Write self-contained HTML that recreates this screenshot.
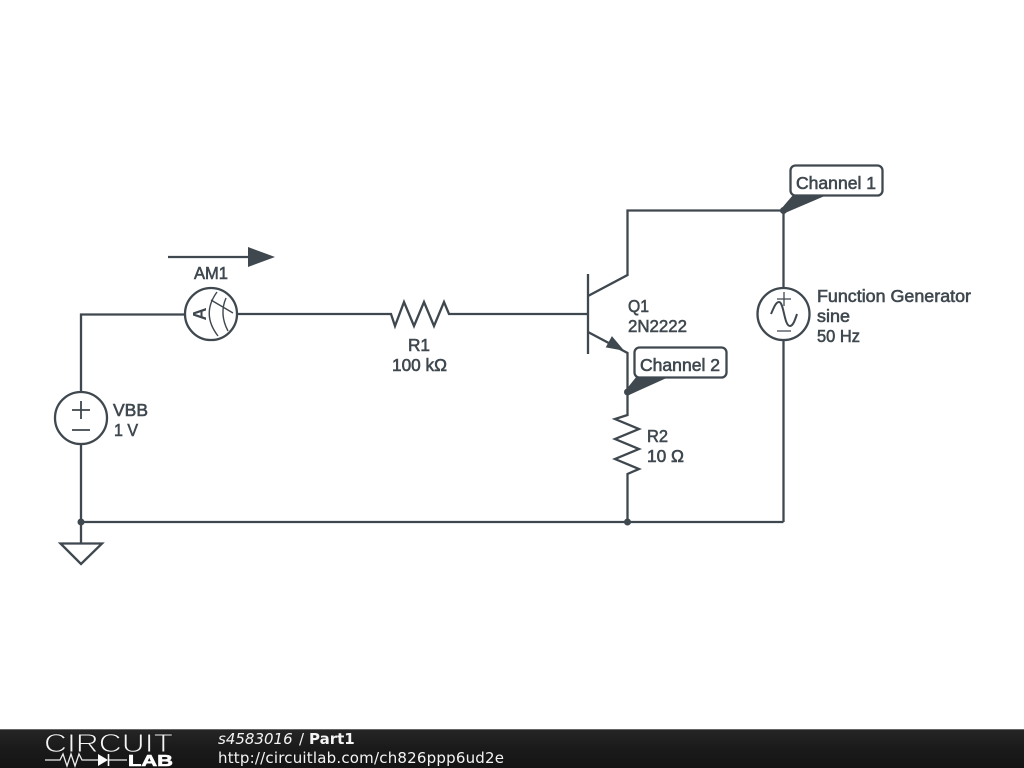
<!DOCTYPE html>
<html>
<head>
<meta charset="utf-8">
<style>
html,body{margin:0;padding:0;background:#fff;width:1024px;height:768px;overflow:hidden}
svg{display:block;position:absolute;left:0;top:0}
.w{fill:none;stroke:#3f484f;stroke-width:2.3;stroke-linejoin:miter}
.t{font-family:"Liberation Sans",sans-serif;font-size:17.5px;fill:#3f484f;stroke:#3f484f;stroke-width:.6}
.f{font-family:"DejaVu Sans",sans-serif;font-size:15px;fill:#f4f4f4}
</style>
</head>
<body>
<svg width="1024" height="768" viewBox="0 0 1024 768" xmlns="http://www.w3.org/2000/svg">
<defs>
<linearGradient id="g" x1="0" y1="0" x2="0" y2="1">
<stop offset="0" stop-color="#262626"/><stop offset=".5" stop-color="#1a1a1a"/><stop offset="1" stop-color="#141414"/>
</linearGradient>
</defs>

<!-- wires -->
<path class="w" d="M185 314.500H81V392M81 444V543"/>
<path class="w" d="M81 522H783.500"/>
<path class="w" d="M238 314H391L395 326L404 302L414 326L424 302L434 326L444 302L449 314H588"/>
<path class="w" d="M588 296L627.500 275V210.500H783.500V287M783.500 340V522"/>
<path class="w" d="M588 332L627.500 353V415L615 419L639 429L615 439L639 449L615 459L639 469L627.500 474V522"/>
<path class="w" d="M588 274V354"/>

<!-- emitter arrow -->
<path d="M612 337L606.500 347L623 350Z" fill="#3f484f" stroke="#3f484f" stroke-width="1"/>

<!-- current arrow -->
<path class="w" d="M168 257H250"/>
<path d="M248 247L275 257L248 267Z" fill="#3f484f"/>

<!-- ammeter -->
<circle class="w" cx="211" cy="314" r="26"/>
<path d="M217 292Q201 314 218 336M226 298Q219 314 228 331" fill="none" stroke="#3f484f" stroke-width="1.400"/>
<path d="M211 300L233 313" fill="none" stroke="#3f484f" stroke-width="1.400"/>
<text transform="translate(206 314) rotate(-90)" text-anchor="middle" style="font-family:'Liberation Sans',sans-serif;font-weight:bold;font-size:18px;fill:#3f484f">A</text>

<!-- VBB -->
<circle class="w" cx="81" cy="418" r="26"/>
<path class="w" d="M72 410H90M81 401V419M72 430H90" style="stroke-width:1.800"/>

<!-- function generator -->
<circle class="w" cx="783.500" cy="314" r="26"/>
<path d="M777 299H791M784 292V306M777 331H791" fill="none" stroke="#3f484f" stroke-width="1.300"/>
<path d="M771 314C774 307 776 302 779 302C784 302 784 326 790 326C793 326 795 320 797 314" fill="none" stroke="#3f484f" stroke-width="2"/>

<!-- ground -->
<path class="w" d="M60.500 543.500H102L81 564Z"/>

<!-- dots -->
<circle cx="81" cy="522" r="3.500" fill="#3f484f"/>
<circle cx="627.500" cy="522" r="3.500" fill="#3f484f"/>
<circle cx="783.500" cy="210.500" r="3.500" fill="#3f484f"/>
<circle cx="627.500" cy="392" r="3.500" fill="#3f484f"/>

<!-- probe flags -->
<path d="M781 209L793 195H827L785 213Z" fill="#3f484f"/>
<rect x="790.500" y="165.500" width="92" height="30" rx="5" fill="#fff" stroke="#3f484f" stroke-width="2.300"/>
<path d="M625 391L637 376H671L629 395Z" fill="#3f484f"/>
<rect x="634.500" y="347.500" width="92" height="30" rx="5" fill="#fff" stroke="#3f484f" stroke-width="2.300"/>

<!-- labels -->
<text class="t" x="796" y="189" textLength="80" lengthAdjust="spacingAndGlyphs">Channel 1</text>
<text class="t" x="640" y="371" textLength="80" lengthAdjust="spacingAndGlyphs">Channel 2</text>
<text class="t" x="194" y="279" textLength="34" lengthAdjust="spacingAndGlyphs">AM1</text>
<text class="t" x="408" y="351" textLength="22" lengthAdjust="spacingAndGlyphs">R1</text>
<text class="t" x="392" y="371" textLength="55" lengthAdjust="spacingAndGlyphs">100 kΩ</text>
<text class="t" x="628" y="312" textLength="21" lengthAdjust="spacingAndGlyphs">Q1</text>
<text class="t" x="628" y="332" textLength="59" lengthAdjust="spacingAndGlyphs">2N2222</text>
<text class="t" x="113" y="416" textLength="35" lengthAdjust="spacingAndGlyphs">VBB</text>
<text class="t" x="114" y="436" textLength="24" lengthAdjust="spacingAndGlyphs">1 V</text>
<text class="t" x="647" y="442" textLength="21" lengthAdjust="spacingAndGlyphs">R2</text>
<text class="t" x="647" y="462" textLength="37" lengthAdjust="spacingAndGlyphs">10 Ω</text>
<text class="t" x="817" y="302" textLength="154" lengthAdjust="spacingAndGlyphs">Function Generator</text>
<text class="t" x="817" y="322" textLength="33" lengthAdjust="spacingAndGlyphs">sine</text>
<text class="t" x="817" y="342" textLength="43" lengthAdjust="spacingAndGlyphs">50 Hz</text>

<!-- footer -->
<rect x="0" y="729" width="1024" height="39" fill="url(#g)"/>
<rect x="0" y="729" width="1024" height="1" fill="#666"/>
<text x="44" y="752" textLength="129" lengthAdjust="spacingAndGlyphs" style="font-family:'Liberation Sans',sans-serif;font-size:26px;fill:#f4f4f4;stroke:#1c1c1c;stroke-width:.9">CIRCUIT</text>
<path d="M45 760H60L63 754L67 766L71 754L75 766L79 754L82 760H98M108 760H127" fill="none" stroke="#eee" stroke-width="1.300"/>
<path d="M98 754L108 760L98 766Z" fill="#fff"/>
<path d="M108.500 754V766" stroke="#fff" stroke-width="1.600"/>
<text x="128" y="766" textLength="45" lengthAdjust="spacingAndGlyphs" style="font-family:'Liberation Sans',sans-serif;font-size:16px;font-weight:bold;fill:#fff;stroke:#fff;stroke-width:.6">LAB</text>
<text class="f" x="218" y="744"><tspan font-style="italic">s4583016</tspan><tspan x="299">/</tspan><tspan x="309" font-weight="bold">Part1</tspan></text>
<text class="f" x="218" y="763" textLength="286">http://circuitlab.com/ch826ppp6ud2e</text>
</svg>
</body>
</html>
